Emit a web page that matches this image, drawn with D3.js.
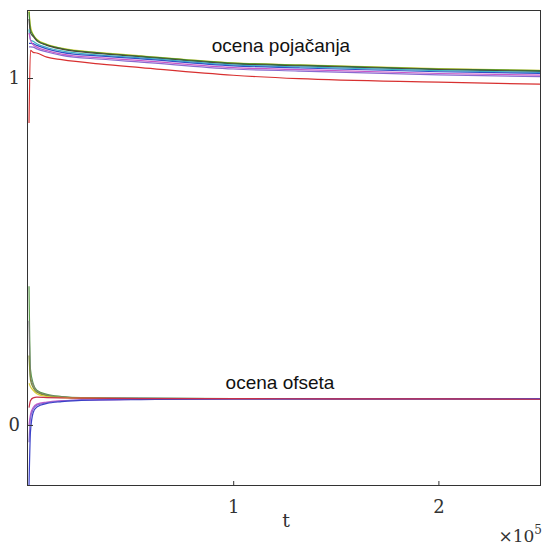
<!DOCTYPE html>
<html>
<head>
<meta charset="utf-8">
<script src="https://cdn.jsdelivr.net/npm/d3@7"></script>
<style>
  body { margin: 0; background: #fff; }
  svg { display: block; }
</style>
</head>
<body>
<svg id="chart" width="545" height="546"></svg>
<script>
// sample times (t) for the two groups of curves
const tGain = [500, 1200, 2500, 4300, 9200, 16400, 35700, 55000, 100000, 132000, 200000, 250000];
const tOffset = [500, 1200, 2500, 4300, 9200, 16400, 26000, 55000, 100000, 150000, 200000, 250000];

// gain estimates (ocena pojačanja)
const gainYellow  = [1.196, 1.15, 1.126, 1.112, 1.097, 1.086, 1.073, 1.064, 1.044, 1.038, 1.027, 1.022];
const gainGreen   = [1.190, 1.14, 1.124, 1.110, 1.096, 1.085, 1.072, 1.063, 1.043, 1.037, 1.026, 1.021];
const gainBlack   = [1.170, 1.13, 1.120, 1.107, 1.094, 1.083, 1.070, 1.061, 1.041, 1.035, 1.024, 1.019];
const gainCyan    = [1.140, 1.11, 1.106, 1.099, 1.088, 1.078, 1.066, 1.058, 1.038, 1.032, 1.021, 1.016];
const gainBlue    = [1.100, 1.10, 1.099, 1.094, 1.084, 1.074, 1.063, 1.055, 1.035, 1.029, 1.018, 1.013];
const gainMagenta = [1.130, 1.11, 1.096, 1.089, 1.079, 1.069, 1.058, 1.050, 1.030, 1.024, 1.013, 1.008];
const gainPurple  = [1.090, 1.09, 1.089, 1.084, 1.075, 1.065, 1.054, 1.046, 1.026, 1.020, 1.009, 1.004];
const gainRed     = [0.870, 1.08, 1.074, 1.072, 1.060, 1.053, 1.040, 1.030, 1.008, 0.998, 0.988, 0.982];

// offset estimates (ocena ofseta)
const offGreen   = [0.400, 0.160, 0.120, 0.100, 0.088, 0.082, 0.079, 0.077, 0.076, 0.076, 0.075, 0.075];
const offGray    = [0.300, 0.140, 0.115, 0.097, 0.086, 0.081, 0.078, 0.077, 0.076, 0.075, 0.075, 0.075];
const offOlive   = [0.200, 0.130, 0.108, 0.094, 0.084, 0.080, 0.078, 0.076, 0.076, 0.075, 0.075, 0.075];
const offYellow  = [0.120, 0.110, 0.100, 0.090, 0.082, 0.079, 0.077, 0.076, 0.075, 0.075, 0.075, 0.075];
const offMagenta = [0.000, 0.030, 0.050, 0.060, 0.066, 0.070, 0.072, 0.074, 0.075, 0.075, 0.075, 0.075];
const offPurple  = [-0.050, 0.020, 0.045, 0.057, 0.064, 0.069, 0.072, 0.074, 0.075, 0.075, 0.075, 0.075];
const offBlue    = [-0.176, -0.020, 0.035, 0.052, 0.062, 0.067, 0.071, 0.073, 0.075, 0.075, 0.075, 0.075];
const offRed     = [0.050, 0.070, 0.078, 0.080, 0.079, 0.078, 0.077, 0.076, 0.076, 0.075, 0.075, 0.074];

const xTicks = [100000, 200000];
const xTickLabels = ["1", "2"];
const yTicks = [0, 1];
const yTickLabels = ["0", "1"];

const series = [
  { t: tGain, v: gainYellow,  color: "#d8cf3a" },
  { t: tGain, v: gainGreen,   color: "#3c8a2e" },
  { t: tGain, v: gainBlack,   color: "#4a4a3a" },
  { t: tGain, v: gainCyan,    color: "#3cb4c4" },
  { t: tGain, v: gainBlue,    color: "#3050c8" },
  { t: tGain, v: gainMagenta, color: "#c858c8" },
  { t: tGain, v: gainPurple,  color: "#8a6ad0" },
  { t: tGain, v: gainRed,     color: "#d83030" },
  { t: tOffset, v: offGreen,   color: "#5a9a4a" },
  { t: tOffset, v: offGray,    color: "#808080" },
  { t: tOffset, v: offOlive,   color: "#7a8a3a" },
  { t: tOffset, v: offYellow,  color: "#d8cf3a" },
  { t: tOffset, v: offMagenta, color: "#c858c8" },
  { t: tOffset, v: offPurple,  color: "#8a6ad0" },
  { t: tOffset, v: offBlue,    color: "#3a40c8" },
  { t: tOffset, v: offRed,     color: "#c83048" }
];

const svg = d3.select("#chart");
const margin = { top: 10, right: 4, bottom: 60, left: 28 };
const width = 545, height = 546;

const x = d3.scaleLinear().domain([0, 250000]).range([margin.left, width - margin.right]);
const y = d3.scaleLinear().domain([-0.176, 1.196]).range([height - margin.bottom, margin.top]);

svg.append("clipPath").attr("id", "clip")
  .append("rect")
  .attr("x", margin.left).attr("y", margin.top)
  .attr("width", x.range()[1] - margin.left)
  .attr("height", y.range()[0] - margin.top);

const line = d3.line()
  .x(d => x(d[0]))
  .y(d => y(d[1]))
  .curve(d3.curveMonotoneX);

const plot = svg.append("g").attr("clip-path", "url(#clip)");
series.forEach(s => {
  plot.append("path")
    .datum(s.t.map((t, i) => [t, s.v[i]]))
    .attr("fill", "none")
    .attr("stroke", s.color)
    .attr("stroke-width", 1.2)
    .attr("d", line);
});

// box
svg.append("rect")
  .attr("x", margin.left - 0.5).attr("y", margin.top + 0.5)
  .attr("width", x.range()[1] - margin.left)
  .attr("height", y.range()[0] - margin.top - 1)
  .attr("fill", "none")
  .attr("stroke", "#333")
  .attr("stroke-width", 1);

// ticks (inside, MATLAB style)
const xAxis = d3.axisBottom(x).tickValues(xTicks).tickSize(-5).tickPadding(14)
  .tickFormat((d, i) => xTickLabels[i]);
const gx = svg.append("g")
  .attr("transform", `translate(0,${y.range()[0]})`)
  .call(xAxis);
gx.select(".domain").remove();

const yAxis = d3.axisLeft(y).tickValues(yTicks).tickSize(-5).tickPadding(8)
  .tickFormat((d, i) => yTickLabels[i]);
const gy = svg.append("g")
  .attr("transform", `translate(${margin.left},0)`)
  .call(yAxis);
gy.select(".domain").remove();

svg.selectAll(".tick line").attr("stroke", "#333");
svg.selectAll(".tick text")
  .attr("font-family", "'DejaVu Serif', serif")
  .attr("font-size", 18)
  .attr("fill", "#333");

// axis label and exponent
svg.append("text")
  .attr("x", 286).attr("y", 527)
  .attr("text-anchor", "middle")
  .attr("font-family", "'DejaVu Serif', serif")
  .attr("font-size", 19)
  .attr("fill", "#333")
  .text("t");

const expo = svg.append("text")
  .attr("x", 542).attr("y", 542)
  .attr("text-anchor", "end")
  .attr("font-family", "'DejaVu Serif', serif")
  .attr("font-size", 17)
  .attr("fill", "#333");
expo.append("tspan").text("×10");
expo.append("tspan").attr("font-size", 12).attr("dy", -8).text("5");

// annotations
svg.append("text")
  .attr("x", 281).attr("y", 52)
  .attr("text-anchor", "middle")
  .attr("font-family", "'Liberation Sans', Arial, sans-serif")
  .attr("font-size", 19)
  .attr("fill", "#111")
  .text("ocena pojačanja");

svg.append("text")
  .attr("x", 280).attr("y", 389)
  .attr("text-anchor", "middle")
  .attr("font-family", "'Liberation Sans', Arial, sans-serif")
  .attr("font-size", 19)
  .attr("fill", "#111")
  .text("ocena ofseta");
</script>
</body>
</html>
